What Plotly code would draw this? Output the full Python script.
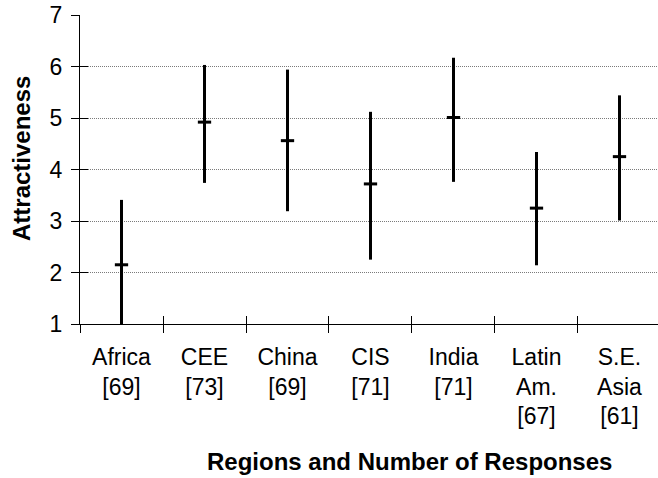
import plotly.graph_objects as go

# Regions with response counts (tick labels) and attractiveness scores
regions = ["Africa<br>[69]", "CEE<br>[73]", "China<br>[69]", "CIS<br>[71]",
           "India<br>[71]", "Latin<br>Am.<br>[67]", "S.E.<br>Asia<br>[61]"]
mean_score = [2.15, 4.92, 4.56, 3.72, 5.01, 3.25, 4.25]
low_score = [0.90, 3.74, 3.19, 2.25, 3.76, 2.14, 3.01]
high_score = [3.41, 6.03, 5.94, 5.12, 6.17, 4.34, 5.44]

y_ticks = [1, 2, 3, 4, 5, 6, 7]

FONT = "Arial, Liberation Sans, sans-serif"

err_plus = [h - m for h, m in zip(high_score, mean_score)]
err_minus = [m - l for m, l in zip(mean_score, low_score)]

fig = go.Figure()

# Mean marks with the low-high span as a vertical bar
fig.add_trace(go.Scatter(
    x=regions, y=mean_score, mode="markers",
    marker=dict(symbol="line-ew", size=9.5, color="black",
                line=dict(width=3, color="black")),
    error_y=dict(type="data", symmetric=False, array=err_plus,
                 arrayminus=err_minus, color="black", thickness=3, width=0),
    hoverinfo="skip", showlegend=False,
))

# Invisible trace on the overlay axes that carry the inner half of the ticks
fig.add_trace(go.Scatter(
    x=regions, y=mean_score, xaxis="x2", yaxis="y2", mode="markers",
    marker=dict(opacity=0), hoverinfo="skip", showlegend=False,
))

x_range = [-0.5, 6.464]
y_range = [1, 7]

fig.update_layout(
    width=658, height=478,
    margin=dict(l=80, r=0, t=15, b=154),
    paper_bgcolor="white", plot_bgcolor="white",
    font=dict(family=FONT, size=23, color="black"),
    xaxis=dict(
        type="category", categoryorder="array", categoryarray=regions,
        range=x_range, tickson="boundaries",
        ticks="outside", ticklen=8, tickwidth=1, tickcolor="black",
        showline=True, linecolor="black", linewidth=1,
        showgrid=False, zeroline=False,
        tickfont=dict(family=FONT, size=23, color="black"),
        ticklabelstandoff=12,
    ),
    yaxis=dict(
        range=y_range, tickvals=y_ticks, ticktext=[str(v) for v in y_ticks],
        ticks="outside", ticklen=8, tickwidth=1, tickcolor="black",
        showline=True, linecolor="black", linewidth=1,
        showgrid=True, gridcolor="#7a7a7a", gridwidth=1, griddash="1px,1px",
        zeroline=False,
        tickfont=dict(family=FONT, size=23, color="black"),
        ticklabelstandoff=4,
    ),
    xaxis2=dict(
        type="category", categoryorder="array", categoryarray=regions,
        range=x_range, tickson="boundaries", overlaying="x", anchor="y2",
        side="bottom", ticks="inside", ticklen=8, tickwidth=1,
        tickcolor="black", showticklabels=False, showline=False,
        showgrid=False, zeroline=False,
    ),
    yaxis2=dict(
        range=y_range, tickvals=y_ticks, overlaying="y", anchor="x2",
        side="left", ticks="inside", ticklen=8, tickwidth=1,
        tickcolor="black", showticklabels=False, showline=False,
        showgrid=False, zeroline=False,
    ),
    annotations=[
        dict(text="<b>Attractiveness</b>", textangle=-90,
             xref="paper", yref="paper", x=-59 / 578, y=(324 - 159) / 309,
             xanchor="center", yanchor="middle", showarrow=False,
             font=dict(family=FONT, size=24, color="black")),
        dict(text="<b>Regions and Number of Responses</b>",
             xref="paper", yref="paper", x=(409.5 - 80) / 578,
             y=-(461 - 324) / 309, xanchor="center", yanchor="middle",
             showarrow=False,
             font=dict(family=FONT, size=24, color="black")),
    ],
)

fig.write_html("out.html")
